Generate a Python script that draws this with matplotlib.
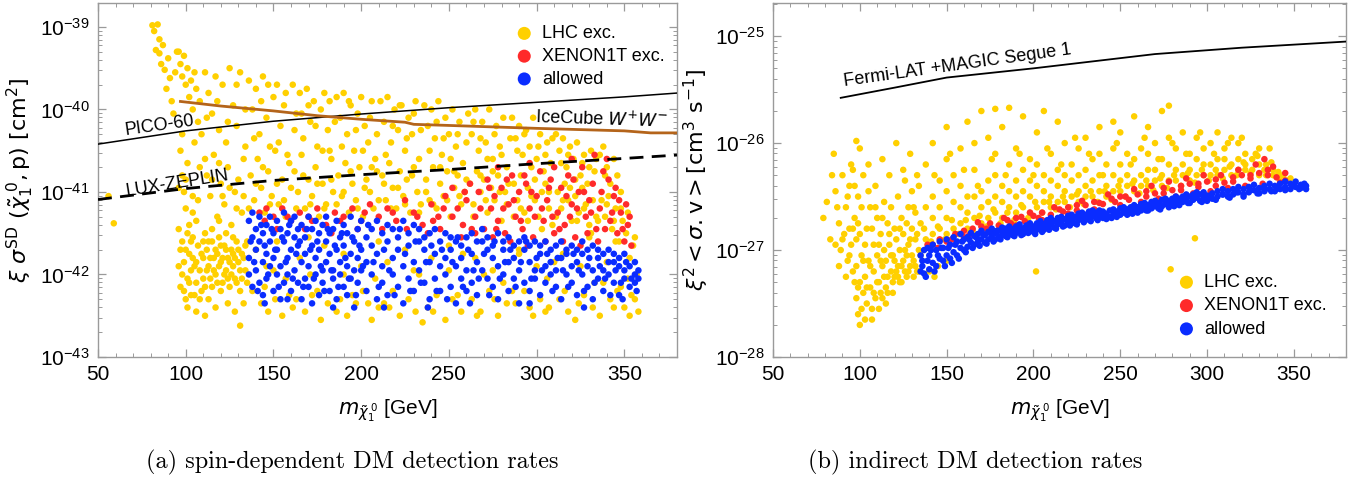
import numpy as np
import matplotlib
matplotlib.use("Agg")
import matplotlib.pyplot as plt
from matplotlib.ticker import MultipleLocator, FixedLocator, NullFormatter

plt.rcParams['font.family'] = ['Liberation Sans', 'DejaVu Sans']
plt.rcParams['mathtext.fontset'] = 'dejavusans'

# ---------------- data: panel (a)  (x in GeV, y as log10 of cm^2) ----------------
lhc_a = [
 (81,-38.98),(82,-39.05),(84,-38.97),(83,-39.28),(85,-39.32),(87,-39.22),(86,-39.45),(88,-39.52),(90,-39.38),(91,-39.62),
 (89,-39.75),(92,-39.9),(93,-40.05),(94,-39.55),(95,-39.3),(85,-39.15),(56,-41.05),(59,-41.38),
 (96,-39.3),(97,-39.45),(98,-39.6),(99,-39.35),(100,-39.7),(101,-39.5),(102,-39.85),(103,-39.65),(104,-40.0),(105,-39.55),
 (106,-39.75),(107,-40.15),(108,-39.9),(109,-40.3),(97,-40.5),(98,-40.8),(99,-41.0),(100,-41.2),(101,-40.65),(102,-41.4),
 (103,-41.6),(104,-41.8),(96,-41.9),(97,-41.7),(98,-42.0),(99,-42.2),(100,-42.3),(101,-41.5),(102,-42.1),(103,-41.95),
 (105,-42.25),(106,-41.35),(107,-41.1),(108,-40.7),(109,-41.75),(110,-42.05),(105,-40.4),(106,-41.85),(104,-41.25),(108,-42.3),(110,-41.6),
 (111,-39.55),(113,-39.8),(115,-40.05),(117,-39.6),(119,-40.25),(121,-39.7),(123,-40.4),(125,-39.5),(127,-39.95),(129,-40.2),
 (131,-39.55),(133,-40.6),(112,-40.8),(114,-41.05),(116,-40.55),(118,-41.3),(120,-40.9),(122,-41.15),(124,-40.7),(126,-41.4),
 (128,-41.0),(130,-40.85),(132,-41.25),(134,-40.45),(111,-41.5),(112,-41.7),(113,-41.9),(114,-42.05),(115,-41.6),(116,-41.8),
 (117,-42.0),(118,-41.75),(119,-41.55),(120,-41.85),(121,-42.1),(122,-41.65),(123,-41.95),(124,-41.8),(125,-42.15),(126,-41.7),
 (127,-41.9),(128,-42.05),(129,-41.6),(130,-41.85),(131,-42.2),(132,-41.75),(133,-42.35),(134,-41.95),(113,-42.3),(117,-42.4),
 (120,-42.2),(124,-42.35),(128,-42.45),(131,-42.62),(115,-41.45),(119,-41.35),(123,-41.5),(127,-41.55),(135,-41.6),(135,-42.1),
 (136,-39.65),(138,-40.0),(140,-39.75),(142,-40.3),(144,-39.6),(146,-40.1),(148,-40.45),(150,-39.85),(152,-39.7),(154,-40.2),
 (156,-39.95),(158,-40.55),(137,-40.8),(139,-41.1),(141,-40.6),(143,-40.95),(145,-41.25),(147,-40.75),(149,-41.05),(151,-40.5),
 (153,-41.15),(155,-40.85),(157,-41.3),(159,-40.65),(138,-42.2),(143,-42.35),(147,-42.45),(151,-42.3),(155,-42.5),(159,-42.25),
 (140,-41.7),(146,-41.9),(152,-41.6),(157,-42.05),
 (161,-39.7),(163,-40.05),(165,-39.8),(167,-40.35),(169,-39.75),(171,-40.15),(173,-39.9),(175,-40.45),(177,-40.0),(179,-39.8),
 (181,-40.25),(183,-40.6),(162,-40.75),(164,-41.0),(166,-40.55),(168,-41.2),(170,-40.85),(172,-41.05),(174,-40.7),(176,-41.3),
 (178,-40.9),(180,-41.15),(182,-40.5),(184,-41.0),(163,-42.3),(168,-42.45),(172,-42.25),(177,-42.55),(181,-42.35),(165,-41.8),
 (171,-42.0),(179,-41.65),
 (186,-39.85),(188,-40.1),(190,-39.8),(192,-40.3),(194,-39.95),(196,-40.5),(198,-40.05),(200,-39.85),(202,-40.2),(204,-40.4),
 (206,-39.9),(208,-40.6),(187,-40.8),(189,-41.05),(191,-40.65),(193,-41.25),(195,-40.9),(197,-41.1),(199,-40.7),(201,-41.3),
 (203,-40.85),(205,-41.0),(207,-41.2),(209,-40.75),(188,-42.3),(192,-42.5),(197,-42.35),(201,-42.2),(206,-42.55),(210,-42.4),
 (190,-41.75),(200,-41.9),(208,-42.05),
 (211,-39.9),(213,-40.15),(215,-39.85),(217,-40.4),(219,-40.0),(221,-40.25),(223,-39.95),(225,-40.5),(227,-40.1),(229,-40.3),
 (231,-39.9),(233,-40.6),(212,-40.8),(214,-41.1),(216,-40.65),(218,-40.95),(220,-41.2),(222,-40.75),(224,-41.05),(226,-40.85),
 (228,-41.25),(230,-40.7),(232,-41.0),(234,-41.15),(213,-42.35),(218,-42.2),(222,-42.5),(227,-42.3),(231,-42.45),(235,-42.58),
 (215,-41.85),(225,-41.7),(233,-42.0),
 (236,-39.95),(238,-40.2),(240,-40.0),(242,-40.35),(244,-39.9),(246,-40.55),(248,-40.1),(250,-40.3),(252,-40.0),(254,-40.45),
 (256,-40.15),(258,-40.65),(237,-40.85),(239,-41.1),(241,-40.7),(243,-41.2),(245,-40.9),(247,-41.05),(249,-40.75),(251,-41.3),
 (253,-40.95),(255,-40.8),(257,-41.15),(259,-41.0),(238,-42.4),(243,-42.25),(248,-42.55),(252,-42.3),(257,-42.45),(240,-41.8),
 (250,-41.95),(258,-41.75),
 (261,-40.05),(263,-40.3),(265,-40.0),(267,-40.5),(269,-40.15),(271,-40.4),(273,-40.0),(275,-40.6),(277,-40.2),(279,-40.45),
 (281,-40.1),(283,-40.7),(262,-40.9),(264,-41.15),(266,-40.75),(268,-41.0),(270,-40.85),(272,-41.25),(274,-40.95),(276,-41.1),
 (278,-40.8),(280,-41.35),(282,-41.0),(284,-40.9),(263,-42.3),(268,-42.45),(273,-42.2),(278,-42.5),(283,-42.35),(265,-41.8),
 (275,-41.95),(281,-42.1),
 (286,-40.1),(288,-40.35),(290,-40.2),(292,-40.55),(294,-40.25),(296,-40.45),(298,-40.1),(300,-40.6),(302,-40.3),(304,-40.75),
 (306,-40.4),(308,-40.65),(287,-40.9),(289,-41.1),(291,-40.8),(293,-41.25),(295,-40.95),(297,-41.05),(299,-40.85),(301,-41.3),
 (303,-41.0),(305,-40.9),(307,-41.2),(309,-41.4),(288,-42.35),(293,-42.2),(298,-42.5),(302,-42.3),(307,-42.4),(290,-41.7),
 (300,-41.9),(306,-42.05),
 (311,-40.3),(313,-40.5),(315,-40.35),(317,-40.7),(319,-40.45),(321,-40.6),(323,-40.4),(325,-40.8),(327,-40.55),(329,-40.9),
 (331,-40.5),(333,-40.75),(312,-41.0),(314,-41.2),(316,-40.9),(318,-41.1),(320,-41.35),(322,-41.05),(324,-41.25),(326,-40.95),
 (328,-41.15),(330,-41.4),(332,-41.1),(334,-41.3),(313,-42.3),(318,-42.45),(322,-42.55),(327,-42.25),(332,-42.4),(315,-41.75),
 (325,-41.9),(333,-42.1),
 (336,-40.55),(338,-40.45),(340,-40.7),(342,-40.9),(344,-40.6),(346,-40.8),(348,-41.0),(337,-41.1),(339,-41.3),(341,-41.05),
 (343,-41.45),(345,-41.2),(347,-41.6),(349,-41.35),(351,-41.5),(353,-41.8),(355,-41.65),(357,-42.0),(338,-42.1),(342,-42.3),
 (346,-42.2),(350,-42.4),(354,-42.25),(358,-42.45),(340,-41.85),(352,-42.05),(356,-42.3),
 (112,-40.1),(118,-39.9),(124,-40.15),(129,-39.7),(134,-40.0),(139,-40.35),(143,-39.9),(147,-39.7),(153,-40.4),(157,-39.8),
 (162,-40.25),(166,-40.05),(170,-39.95),(174,-40.2),(178,-40.5),(182,-39.9),(185,-40.15),(189,-40.45),(193,-39.9),(197,-40.25),
 (201,-40.5),(205,-40.1),(209,-40.3),(214,-40.55),(218,-40.2),(222,-39.95),(226,-40.35),(230,-40.05),(234,-40.25),(239,-40.5),
 (243,-40.15),(247,-40.35),(251,-40.6),(255,-40.3),(260,-40.4),(264,-40.15),(268,-40.35),(272,-40.6),(276,-40.3),(280,-40.55),
 (285,-40.35),(289,-40.5),(293,-40.3),(297,-40.7),(301,-40.45),(305,-40.55),(309,-40.35),(314,-40.65),(318,-40.55),(322,-40.85),
 (326,-40.65),(330,-40.7),(334,-40.6),(339,-40.8),
 (111,-40.6),(115,-40.85),(119,-40.65),(121,-41.05),(125,-40.95),(129,-41.2),(133,-41.05),(136,-41.2),(140,-40.9),(144,-40.7),
 (148,-41.15),(152,-40.9),(156,-41.1),(160,-40.95),(163,-41.2),(167,-40.8),(171,-41.15),(175,-40.9),(179,-41.2),(183,-40.85),
 (186,-41.15),(190,-41.0),(194,-40.75),(198,-41.2),(202,-40.95),(206,-40.7),(210,-41.1),(213,-40.9),(217,-41.2),(221,-40.95),
 (225,-41.15),(229,-40.8),(233,-41.25),(237,-41.0),(241,-41.15),(245,-40.7),(249,-41.1),(253,-40.75),(256,-41.05),(260,-40.85),
 (264,-41.3),(268,-40.8),(271,-41.1),(275,-40.75),(279,-41.0),(283,-41.15),(287,-41.3),(291,-41.2),(295,-41.35),(299,-41.1),
 (303,-41.45),(307,-41.0),(311,-41.3),(315,-41.1),(319,-40.95),(323,-41.35),(327,-41.2),(331,-41.5),(335,-41.35),(340,-41.15),
 (344,-41.35),(348,-41.2),(352,-41.25),(356,-41.55),
 (96,-41.45),(97,-42.15),(98,-41.6),(99,-41.85),(100,-41.7),(101,-42.05),(102,-41.75),(103,-42.25),(104,-41.55),(105,-41.9),
 (106,-42.1),(107,-41.65),(108,-41.95),(109,-42.2),(110,-41.8),(111,-42.15),(112,-41.95),(113,-41.6),(114,-41.8),(115,-42.15),
 (116,-41.95),(117,-41.7),(118,-42.1),(119,-41.9),(120,-41.65),(121,-41.8),(122,-42.0),(123,-41.7),(124,-42.05),(125,-41.85),
 (126,-42.0),(127,-41.75),(128,-41.8),(129,-42.1),(130,-41.7),(131,-41.95),(132,-42.05),(133,-41.8),(134,-41.65),(101,-42.4),
 (106,-42.45),(111,-42.5),(96,-40.95),(100,-40.85),(104,-41.05),(98,-40.3),
 (145,-42.15),(161,-42.4),(175,-42.2),(186,-42.45),(195,-42.25),(204,-42.35),(216,-42.4),(229,-42.2),(241,-42.45),(255,-42.25),
 (266,-42.5),(276,-42.3),(286,-42.2),(296,-42.4),(305,-42.45),(316,-42.2),(324,-42.35),(336,-42.5),(344,-42.4),(353,-42.5),
 (348,-42.15),(150,-41.95),(170,-41.55),(190,-42.0),(210,-41.6),(230,-41.95),(250,-41.65),(270,-42.0),(290,-41.75),(310,-41.85),
 (330,-41.55),(345,-41.6),
]

xenon_a = [
 (142,-41.25),(146,-41.2),(150,-41.3),(155,-41.2),(160,-41.35),(165,-41.25),(170,-41.3),(175,-41.2),(180,-41.4),(185,-41.25),
 (190,-41.3),(195,-41.2),(200,-41.35),(205,-41.15),(210,-41.3),(215,-41.2),(220,-41.35),(225,-41.1),(230,-41.25),(235,-41.4),
 (240,-41.15),(244,-41.3),(248,-41.05),(252,-40.95),(255,-41.2),(258,-41.4),(260,-41.1),(262,-40.9),(265,-41.3),(267,-41.0),
 (270,-41.45),(272,-40.85),(274,-41.2),(276,-41.05),(278,-41.35),(280,-40.95),(282,-41.5),(284,-41.15),(286,-40.8),(288,-41.3),
 (290,-41.0),(292,-41.45),(294,-40.9),(296,-41.2),(298,-41.55),(300,-41.05),(302,-40.75),(304,-41.35),(306,-41.1),(308,-40.85),
 (310,-41.5),(312,-41.25),(314,-40.95),(316,-41.4),(318,-40.8),(320,-41.15),(322,-41.55),(324,-41.0),(326,-40.7),(328,-41.3),
 (330,-41.1),(332,-40.9),(334,-41.45),(336,-41.2),(338,-40.75),(340,-40.6),(342,-41.35),(344,-41.05),(346,-41.5),(348,-41.25),
 (350,-41.6),(352,-41.4),(354,-41.65),(345,-40.95),(335,-41.6),(325,-41.65),(315,-41.6),(305,-41.6),(295,-41.65),(285,-41.6),
 (275,-41.55),(265,-41.5),(257,-41.55),(245,-41.45),(238,-41.5),(226,-41.45),(212,-41.45),(198,-41.45),(183,-41.5),(168,-41.45),
 (152,-41.45),(278,-40.7),(296,-40.65),(310,-40.7),(320,-40.6),(333,-40.55),
 (252,-41.3),(259,-41.0),(263,-41.45),(268,-41.2),(273,-40.95),(277,-41.45),(281,-41.2),(283,-40.85),(287,-41.1),(291,-41.35),
 (293,-40.8),(297,-41.0),(299,-41.3),(303,-41.2),(307,-40.95),(309,-41.3),(313,-41.45),(317,-41.05),(319,-41.3),(321,-40.85),
 (323,-41.2),(327,-41.0),(329,-41.5),(331,-41.25),(337,-41.0),(339,-41.45),(341,-40.85),(343,-41.25),(347,-41.1),(349,-41.45),
 (351,-41.15),(353,-41.3),(232,-41.3),(218,-41.25),(202,-41.25),(188,-41.35),(172,-41.35),(158,-41.3),(145,-41.35),(241,-41.35),
 (247,-41.2),
]

allowed_a = [
 (136,-41.35),(136,-41.8),(136,-42.0),(138,-41.55),(138,-42.15),(138,-41.25),(140,-41.7),(140,-41.45),(140,-41.95),
 (142,-42.1),(142,-41.6),(142,-41.3),(144,-41.85),(144,-42.25),(144,-41.5),(146,-41.4),(146,-41.75),(146,-42.05),
 (148,-41.6),(148,-41.3),(148,-41.9),(150,-42.2),(150,-41.5),(150,-41.8),(152,-41.7),(152,-42.0),(152,-41.35),
 (154,-41.45),(154,-41.9),(154,-42.3),(156,-41.6),(156,-41.25),(156,-42.1),(158,-41.8),(158,-42.0),(158,-41.5),
 (160,-41.35),(160,-41.7),(160,-42.2),(162,-41.55),(162,-41.95),(162,-41.3),(164,-42.1),(164,-41.65),(164,-41.45),
 (166,-41.85),(166,-41.4),(166,-42.3),(168,-41.55),(168,-42.05),(168,-41.75),(170,-41.3),(170,-41.9),(170,-42.15),
 (172,-41.65),(172,-41.45),(172,-42.35),(174,-41.8),(174,-42.0),(174,-41.35),(176,-41.5),(176,-42.25),(176,-41.7),
 (178,-41.95),(178,-41.4),(178,-42.1),(180,-41.6),(180,-41.3),(180,-41.85),(182,-42.2),(182,-41.5),(182,-41.75),
 (184,-41.45),(184,-41.95),(184,-42.05),(186,-41.7),(186,-41.35),(186,-42.3),(188,-41.55),(188,-41.85),(188,-42.0),
 (190,-41.4),(190,-42.15),(190,-41.65),(192,-41.9),(192,-41.5),(192,-42.25),(194,-41.75),(194,-41.3),(194,-42.05),
 (196,-41.6),(196,-41.95),(196,-42.4),(198,-41.45),(198,-41.8),(198,-42.1),(200,-41.35),(200,-41.7),(200,-41.95),
 (203,-42.2),(203,-41.55),(203,-41.85),(206,-41.45),(206,-42.0),(206,-41.65),(209,-41.75),(209,-41.35),(209,-42.3),
 (212,-41.9),(212,-41.5),(212,-42.1),(215,-41.6),(215,-42.25),(215,-41.4),(218,-41.8),(218,-41.45),(218,-42.0),
 (221,-41.55),(221,-42.15),(221,-41.7),(224,-41.35),(224,-41.9),(224,-42.35),(227,-41.65),(227,-42.05),(227,-41.5),
 (230,-41.85),(230,-41.4),(230,-42.2),(233,-41.6),(233,-41.95),(233,-41.45),(236,-42.1),(236,-41.7),(236,-41.55),
 (239,-41.5),(239,-41.85),(239,-42.3),(242,-41.75),(242,-42.05),(242,-41.45),(245,-41.6),(245,-41.9),(245,-42.2),
 (248,-41.5),(248,-41.8),(248,-42.0),(251,-41.7),(251,-42.15),(251,-41.55),(254,-41.9),(254,-41.6),(254,-42.35),
 (257,-41.65),(257,-42.05),(257,-41.8),(260,-41.55),(260,-41.95),(260,-42.2),(263,-41.75),(263,-41.5),(263,-42.1),
 (266,-41.85),(266,-42.25),(266,-41.6),(269,-41.6),(269,-41.95),(269,-41.45),(272,-42.05),(272,-41.7),(272,-41.55),
 (275,-41.8),(275,-42.15),(275,-41.65),(278,-41.5),(278,-41.9),(278,-42.3),(281,-41.7),(281,-42.0),(281,-41.6),
 (284,-41.85),(284,-41.55),(284,-42.2),(287,-41.65),(287,-42.05),(287,-41.8),(290,-41.95),(290,-41.6),(290,-42.35),
 (293,-41.7),(293,-42.1),(293,-41.55),(296,-41.85),(296,-41.65),(296,-42.2),(299,-41.6),(299,-41.95),(299,-42.05),
 (302,-41.75),(302,-42.25),(302,-41.65),(305,-41.9),(305,-41.6),(305,-42.1),(308,-41.7),(308,-42.0),(308,-41.85),
 (311,-41.65),(311,-42.15),(311,-41.95),(314,-41.8),(314,-41.6),(314,-42.3),(317,-42.0),(317,-41.75),(317,-41.7),
 (320,-41.65),(320,-42.1),(320,-41.9),(323,-41.85),(323,-42.25),(323,-41.7),(326,-41.75),(326,-42.0),(326,-41.6),
 (329,-41.9),(329,-42.15),(329,-41.7),(332,-41.65),(332,-41.95),(332,-42.3),(335,-41.8),(335,-42.05),(335,-41.7),
 (338,-41.95),(338,-41.75),(338,-42.2),(341,-41.7),(341,-42.0),(341,-41.85),(344,-41.85),(344,-42.1),(344,-41.75),
 (347,-42.25),(347,-41.9),(347,-41.8),(350,-41.75),(350,-42.05),(350,-41.95),(353,-41.9),(353,-42.15),
 (356,-41.85),(356,-42.0),(356,-42.1),(358,-41.95),(358,-42.05),
 (137,-41.6),(139,-41.85),(141,-42.2),(143,-41.4),(145,-41.65),(147,-42.0),(149,-41.45),(151,-41.7),(153,-42.15),(155,-41.55),
 (157,-41.85),(159,-41.4),(161,-42.05),(163,-41.75),(165,-41.6),(167,-42.15),(169,-41.45),(171,-41.7),(173,-42.05),(175,-41.6),
 (177,-41.9),(179,-42.2),(181,-41.45),(183,-41.95),(185,-41.65),(187,-42.15),(189,-41.5),(191,-41.8),(193,-42.05),(195,-41.55),
 (197,-42.25),(199,-41.65),(201,-41.9),(204,-41.4),(207,-41.85),(210,-42.15),(213,-41.7),(216,-41.95),(219,-42.25),(222,-41.45),
 (225,-41.75),(228,-42.2),(231,-41.6),(234,-42.1),(237,-41.85),(240,-41.65),(243,-42.2),(246,-41.7),(249,-42.3),(252,-41.85),
 (255,-41.55),(258,-42.15),(261,-41.7),(264,-41.95),(267,-42.05),(270,-41.75),(273,-42.25),(276,-41.6),(279,-42.05),(282,-41.85),
 (285,-41.7),(288,-42.15),(291,-41.85),(294,-41.6),(297,-42.05),(300,-41.8),(303,-41.95),(306,-41.75),(309,-42.2),(312,-41.8),
 (315,-41.95),(318,-42.15),(321,-41.75),(324,-41.95),(327,-42.2),(330,-41.8),(333,-42.1),(336,-41.9),(339,-42.05),(342,-42.25),
 (345,-41.95),(348,-42.1),(351,-41.85),(354,-42.05),(357,-42.2),(349,-42.3),(327,-42.4),(296,-42.35),(262,-42.35),(238,-42.4),
 (213,-42.4),(184,-42.4),(158,-42.3),(145,-42.35),
]

# limit curves, panel (a)
pico_x = [50, 100, 150, 200, 250, 300, 350, 380]
pico_y = [3.8e-41, 5.5e-41, 7.2e-41, 8.8e-41, 1.05e-40, 1.22e-40, 1.42e-40, 1.58e-40]
icecube_x = [97, 120, 150, 175, 200, 225, 230, 250, 300, 350, 365, 380]
icecube_y = [1.25e-40, 1.10e-40, 9.6e-41, 8.4e-41, 7.6e-41, 7.0e-41, 6.6e-41, 6.4e-41, 5.9e-41, 5.5e-41, 5.2e-41, 5.2e-41]
lz_x = [50, 100, 150, 200, 250, 300, 350, 380]
lz_y = [8.1e-42, 1.1e-41, 1.38e-41, 1.62e-41, 1.87e-41, 2.2e-41, 2.55e-41, 2.8e-41]

# ---------------- data: panel (b)  (x in GeV, y as log10 of cm^3 s^-1) ----------------
lhc_b = [
 (79,-26.7),(81,-26.55),(83,-26.9),(85,-26.1),(86,-26.45),(88,-26.75),(89,-27.0),(90,-26.3),(91,-26.85),(92,-26.6),
 (93,-27.1),(94,-26.4),(95,-26.95),(96,-27.2),(97,-26.7),(98,-25.98),(99,-26.5),(100,-26.85),(100,-26.05),(101,-27.05),
 (102,-26.3),(97,-27.3),(98,-27.45),(99,-27.6),(100,-27.7),(101,-27.55),(102,-27.4),(103,-27.65),(99,-27.35),(98,-27.15),
 (96,-26.25),(94,-26.8),(92,-27.25),(88,-27.15),(86,-26.95),
 (103,-27.25),(104,-27.5),(105,-27.1),(106,-27.35),(107,-27.55),(108,-27.2),(109,-27.45),(110,-27.05),(111,-27.3),(112,-27.4),
 (113,-27.15),(114,-27.0),(115,-27.35),(116,-27.25),(117,-26.95),(118,-27.2),(119,-27.3),(120,-27.1),(121,-26.9),(122,-27.25),
 (123,-27.0),(124,-27.15),(125,-26.85),(126,-27.2),(127,-27.05),(128,-26.95),(129,-27.15),(130,-26.8),(131,-27.1),(132,-26.9),
 (133,-27.2),(134,-27.0),(135,-26.75),(104,-26.8),(106,-26.6),(108,-26.95),(110,-26.7),(112,-26.85),(114,-26.55),(116,-26.75),
 (118,-26.6),(120,-26.8),(122,-26.5),(124,-26.7),(126,-26.35),(128,-26.6),(130,-26.45),(132,-26.65),(134,-26.4),(105,-26.2),
 (109,-26.4),(113,-26.15),(117,-26.3),(121,-26.0),(125,-26.25),(129,-26.1),(133,-26.3),(111,-27.55),(115,-27.5),(119,-27.4),
 (123,-27.3),(127,-27.25),(131,-27.25),(107,-27.65),(113,-27.45),
 (140,-27.2),(145,-27.15),(150,-27.1),(143,-27.25),
 (138,-26.9),(138,-26.6),(138,-26.2),(142,-26.85),(142,-26.7),(142,-26.5),(142,-26.0),(146,-26.8),(146,-26.6),(146,-26.35),
 (150,-26.85),(150,-26.7),(150,-26.45),(150,-26.15),(150,-25.85),(154,-26.8),(154,-26.55),(154,-26.3),
 (158,-26.75),(158,-26.6),(158,-26.4),(158,-26.05),(162,-26.8),(162,-26.65),(162,-26.5),(162,-25.8),
 (166,-26.7),(166,-26.5),(166,-26.25),(166,-26.0),(170,-26.75),(170,-26.6),(170,-26.45),(170,-25.7),
 (174,-26.7),(174,-26.55),(174,-26.35),(174,-25.95),(178,-26.65),(178,-26.5),(178,-26.3),(178,-26.1),(178,-25.68),
 (182,-26.7),(182,-26.55),(182,-26.4),(182,-25.85),(186,-26.6),(186,-26.45),(186,-26.2),(186,-25.67),
 (190,-26.65),(190,-26.5),(190,-26.35),(190,-26.05),(194,-26.6),(194,-26.45),(194,-26.25),(194,-25.75),
 (198,-26.65),(198,-26.5),(198,-26.35),(198,-26.15),(202,-26.6),(202,-26.4),(202,-26.2),(202,-25.9),
 (206,-26.55),(206,-26.45),(206,-26.3),(206,-25.7),(210,-26.6),(210,-26.5),(210,-26.35),(210,-26.1),
 (214,-26.55),(214,-26.4),(214,-26.25),(214,-25.8),(218,-26.55),(218,-26.45),(218,-26.3),(218,-26.0),
 (222,-26.5),(222,-26.35),(222,-26.2),(226,-26.55),(226,-26.45),(226,-26.3),(226,-26.05),
 (230,-26.5),(230,-26.4),(230,-26.25),(230,-25.95),(234,-26.5),(234,-26.35),(234,-26.15),
 (238,-26.45),(238,-26.3),(238,-26.1),(238,-25.85),(242,-26.5),(242,-26.4),(242,-26.2),
 (246,-26.45),(246,-26.3),(246,-26.05),(246,-25.8),(250,-26.45),(250,-26.35),(250,-26.2),(250,-25.9),
 (254,-26.4),(254,-26.3),(254,-26.1),(258,-26.45),(258,-26.35),(258,-26.15),(258,-25.75),
 (262,-26.4),(262,-26.3),(262,-26.05),(266,-26.4),(266,-26.25),(266,-26.1),(266,-25.85),
 (270,-26.35),(270,-26.25),(270,-26.0),(274,-26.4),(274,-26.3),(274,-26.15),(274,-25.7),
 (278,-26.35),(278,-26.2),(278,-25.95),(278,-25.65),(282,-26.35),(282,-26.25),(282,-26.05),
 (286,-26.3),(286,-26.2),(286,-25.9),(290,-26.35),(290,-26.25),(290,-26.1),(294,-26.3),(294,-26.15),(294,-25.95),
 (298,-26.3),(298,-26.2),(298,-26.05),(302,-26.3),(302,-26.2),(302,-26.0),(306,-26.3),(306,-26.15),(306,-25.9),
 (310,-26.25),(310,-26.15),(310,-26.05),(314,-26.3),(314,-26.2),(314,-25.95),(318,-26.25),(318,-26.15),(318,-26.0),
 (322,-26.25),(322,-26.2),(322,-26.1),(326,-26.25),(326,-26.15),(330,-26.3),(330,-26.2),(330,-26.05),
 (334,-26.3),(334,-26.2),(338,-26.3),(338,-26.25),(342,-26.35),(342,-26.3),(346,-26.35),
 (201.5,-27.2),(279,-27.18),(293,-26.89),
 (141,-26.92),(145,-26.78),(149,-26.9),(153,-26.72),(157,-26.85),(161,-26.72),(165,-26.82),(169,-26.68),(173,-26.78),(177,-26.62),
 (181,-26.75),(185,-26.65),(189,-26.72),(193,-26.58),(197,-26.7),(201,-26.55),(205,-26.65),(209,-26.55),(213,-26.62),(217,-26.5),
 (221,-26.6),(225,-26.48),(229,-26.57),(233,-26.45),(237,-26.55),(241,-26.45),(245,-26.53),(249,-26.4),(253,-26.5),(257,-26.38),
 (261,-26.47),(265,-26.35),(269,-26.44),(273,-26.33),(277,-26.42),(281,-26.3),(285,-26.4),(289,-26.28),(293,-26.37),(297,-26.25),
 (301,-26.35),(305,-26.25),(309,-26.33),(313,-26.22),(317,-26.3),(321,-26.18),(325,-26.28),(329,-26.12),(333,-26.25),(337,-26.18),
 (341,-26.27),(344,-26.3),(348,-26.33),
 (143,-26.3),(152,-26.1),(160,-26.25),(168,-26.4),(176,-26.15),(184,-26.3),(192,-26.1),(200,-26.3),(208,-26.05),(216,-26.2),
 (224,-25.95),(232,-26.1),(240,-26.3),(248,-26.0),(256,-26.2),(264,-25.95),(272,-26.15),(280,-26.0),(288,-26.1),(296,-25.9),
 (304,-26.1),(312,-26.0),(320,-25.95),(328,-26.1),(336,-26.05),
 (84,-26.3),(87,-26.6),(90,-26.9),(93,-26.5),(95,-26.2),(97,-26.4),(99,-26.75),(101,-26.6),(103,-26.95),(105,-26.45),
 (107,-26.8),(109,-26.6),(111,-26.95),(113,-26.7),(115,-27.1),(117,-26.85),(119,-27.05),(121,-27.2),(123,-26.8),(125,-27.1),
 (127,-26.75),(129,-26.9),(131,-26.6),(133,-26.85),(135,-27.05),(137,-26.8),(104,-27.35),(106,-27.15),(108,-27.4),(110,-27.3),
 (112,-27.1),(114,-27.25),(116,-27.4),(118,-27.05),(120,-27.25),(122,-27.15),(124,-27.3),(126,-27.0),(128,-27.2),(130,-27.05),
 (132,-27.15),(134,-27.2),(102,-27.1),(100,-27.3),(98,-26.9),(96,-26.8),(94,-27.05),
]

xenon_b = [
 (139,-26.95),(142,-26.95),(146,-26.9),(150,-26.92),(155,-26.85),(160,-26.82),(165,-26.8),(170,-26.78),(175,-26.75),(180,-26.77),
 (185,-26.72),(190,-26.7),(195,-26.73),(200,-26.68),(205,-26.65),(210,-26.67),(215,-26.62),(220,-26.6),(225,-26.63),(230,-26.58),
 (235,-26.55),(240,-26.57),(245,-26.52),(250,-26.5),(255,-26.53),(260,-26.48),(265,-26.45),(270,-26.47),(275,-26.42),(280,-26.44),
 (285,-26.4),(290,-26.38),(295,-26.41),(300,-26.36),(305,-26.34),(310,-26.37),(315,-26.32),(320,-26.3),(325,-26.33),(330,-26.28),
 (335,-26.3),(340,-26.32),(345,-26.35),
 (160,-26.88),(175,-26.82),(190,-26.77),(205,-26.72),(220,-26.66),(235,-26.62),(250,-26.58),(262,-26.55),(272,-26.52),(282,-26.5),
 (292,-26.47),(302,-26.45),(312,-26.42),(322,-26.4),(332,-26.38),(342,-26.37),(268,-26.4),(288,-26.33),(308,-26.3),(318,-26.25),
 (328,-26.2),(333,-26.15),(338,-26.22),(298,-26.3),(278,-26.36),(258,-26.43),(243,-26.48),(228,-26.54),(212,-26.6),(198,-26.65),
 (183,-26.7),(168,-26.74),
 (145,-26.98),(153,-26.9),(163,-26.86),(173,-26.8),(187,-26.75),(193,-26.69),(203,-26.7),(217,-26.64),(225,-26.58),(238,-26.56),
 (247,-26.55),(253,-26.5),(265,-26.5),(275,-26.47),(285,-26.44),(295,-26.38),(305,-26.4),(315,-26.36),(325,-26.3),(335,-26.25),
 (345,-26.28),
]

allowed_b = [
 (135,-27.2),(135,-27.05),(136,-27.15),(137,-27.0),(137,-27.22),(139,-27.1),(139,-26.98),(140,-27.18),(140,-27.05),
 (142,-27.12),(142,-26.95),(144,-27.0),(144,-27.15),(146,-27.08),(146,-26.92),(148,-26.98),(148,-27.1),(150,-27.05),(150,-26.9),
 (152,-26.95),(152,-27.08),(154,-27.02),(154,-26.88),(156,-26.92),(156,-27.05),(158,-26.98),(158,-26.85),(160,-27.0),(160,-26.9),
 (162,-26.88),(162,-26.97),(164,-26.93),(164,-26.84),(166,-26.95),(166,-26.87),(168,-26.85),(168,-26.92),(170,-26.9),(170,-26.82),
 (172,-26.86),(172,-26.93),(174,-26.83),(174,-26.9),(176,-26.88),(176,-26.8),(178,-26.84),(178,-26.9),(180,-26.82),(180,-26.88),
 (182,-26.86),(182,-26.79),(184,-26.8),(184,-26.87),(186,-26.84),(186,-26.78),(188,-26.81),(188,-26.86),(190,-26.78),(190,-26.84),
 (192,-26.82),(192,-26.76),(194,-26.8),(194,-26.85),(196,-26.77),(196,-26.83),(198,-26.8),(198,-26.75),(200,-26.78),(200,-26.83),
 (202,-26.75),(202,-26.81),(204,-26.79),(204,-26.73),(206,-26.76),(206,-26.81),(208,-26.72),(208,-26.78),(210,-26.76),(210,-26.7),
 (212,-26.73),(212,-26.79),(214,-26.7),(214,-26.76),(216,-26.74),(216,-26.69),(218,-26.71),(218,-26.77),(220,-26.68),(220,-26.74),
 (222,-26.72),(222,-26.67),(224,-26.69),(224,-26.75),(226,-26.66),(226,-26.72),(228,-26.7),(228,-26.65),(230,-26.67),(230,-26.72),
 (232,-26.64),(232,-26.7),(234,-26.68),(234,-26.63),(236,-26.65),(236,-26.7),(238,-26.63),(238,-26.69),
 (240,-26.7),(240,-26.64),(242,-26.66),(242,-26.71),(244,-26.63),(244,-26.69),(246,-26.67),(246,-26.62),(248,-26.64),(248,-26.69),
 (250,-26.61),(250,-26.67),(252,-26.65),(252,-26.6),(254,-26.62),(254,-26.67),(256,-26.6),(256,-26.65),(258,-26.63),(258,-26.58),
 (260,-26.6),(260,-26.65),(262,-26.57),(262,-26.63),(264,-26.61),(264,-26.56),(266,-26.58),(266,-26.63),(268,-26.55),(268,-26.61),
 (270,-26.59),(270,-26.54),(272,-26.56),(272,-26.61),(274,-26.53),(274,-26.59),(276,-26.57),(276,-26.52),(278,-26.54),(278,-26.6),
 (280,-26.52),(280,-26.57),(282,-26.55),(282,-26.5),(284,-26.52),(284,-26.58),(286,-26.5),(286,-26.55),(288,-26.53),(288,-26.48),
 (290,-26.5),(290,-26.56),(292,-26.48),(292,-26.53),(294,-26.51),(294,-26.46),(296,-26.48),(296,-26.54),(298,-26.46),(298,-26.51),
 (300,-26.49),(300,-26.54),(303,-26.47),(303,-26.52),(306,-26.45),(306,-26.5),(309,-26.48),(309,-26.43),(312,-26.45),(312,-26.5),
 (315,-26.43),(315,-26.48),(318,-26.46),(318,-26.41),(321,-26.43),(321,-26.48),(324,-26.41),(324,-26.46),(327,-26.44),(327,-26.39),
 (330,-26.42),(330,-26.47),(333,-26.4),(333,-26.45),(336,-26.43),(336,-26.38),(339,-26.4),(339,-26.45),(342,-26.38),(342,-26.43),
 (345,-26.41),(345,-26.36),(348,-26.38),(348,-26.43),(351,-26.36),(351,-26.41),(354,-26.39),(354,-26.42),(357,-26.4),(357,-26.43),
 (136,-27.1),(138,-27.25),(141,-27.0),(143,-27.2),(145,-27.05),(147,-26.98),(149,-27.15),(151,-26.98),(153,-27.12),(155,-26.95),
 (157,-27.08),(159,-26.92),(161,-27.02),(163,-26.9),(165,-26.98),(167,-26.88),(169,-26.96),(171,-26.85),(173,-26.94),(175,-26.84),
 (177,-26.92),(179,-26.82),(181,-26.9),(183,-26.83),(185,-26.88),(187,-26.8),(189,-26.87),(191,-26.8),(193,-26.86),(195,-26.79),
 (197,-26.84),(199,-26.78),(201,-26.85),(203,-26.77),(205,-26.83),(207,-26.75),(209,-26.81),(211,-26.74),(213,-26.8),(215,-26.72),
 (217,-26.78),(219,-26.71),(221,-26.77),(223,-26.7),(225,-26.76),(227,-26.69),(229,-26.74),(231,-26.68),(233,-26.73),(235,-26.66),
 (237,-26.72),(239,-26.66),(241,-26.68),(245,-26.7),(249,-26.66),(253,-26.63),(257,-26.66),(261,-26.6),(265,-26.63),(269,-26.58),
 (273,-26.62),(277,-26.56),(281,-26.59),(285,-26.53),(289,-26.56),(293,-26.51),(297,-26.55),(301,-26.5),(305,-26.53),(309,-26.48),
 (313,-26.51),(317,-26.46),(321,-26.5),(325,-26.44),(329,-26.47),(333,-26.43),(337,-26.45),(341,-26.41),(345,-26.44),(349,-26.4),
 (353,-26.43),(356,-26.38),
]

fermi_x = [89, 120, 150, 200, 270, 320, 380]
fermi_y = [2.65e-26, 3.3e-26, 4.1e-26, 5.0e-26, 6.8e-26, 7.8e-26, 8.9e-26]

series_labels = ["LHC exc.", "XENON1T exc.", "allowed"]
series_colors = ["#FFD000", "#FF2A2A", "#0A2CFF"]
x_ticks = [50, 100, 150, 200, 250, 300, 350]
y_ticks_a = [1e-43, 1e-42, 1e-41, 1e-40, 1e-39]
y_ticks_b = [1e-28, 1e-27, 1e-26, 1e-25]

# ---------------- figure ----------------
W, H = 1353, 478
fig = plt.figure(figsize=(W / 100, H / 100), dpi=100)
ax1 = fig.add_axes([98 / W, (H - 357) / H, 579 / W, 354 / H])
ax2 = fig.add_axes([773 / W, (H - 357) / H, 573 / W, 354 / H])

frame_col = "#9a9a9a"
MS = 22

def style(ax, ylo, yhi, yt):
    ax.set_xlim(50, 380)
    ax.set_yscale('log')
    ax.set_ylim(ylo, yhi)
    ax.xaxis.set_major_locator(FixedLocator(x_ticks))
    ax.xaxis.set_minor_locator(MultipleLocator(10))
    ax.yaxis.set_major_locator(FixedLocator(yt))
    minors = [m * t for t in yt for m in range(2, 10) if m * t < yhi]
    ax.yaxis.set_minor_locator(FixedLocator(minors))
    ax.yaxis.set_minor_formatter(NullFormatter())
    for s in ax.spines.values():
        s.set_color(frame_col)
        s.set_linewidth(1.0)
    ax.tick_params(which='both', direction='in', top=True, right=True, color=frame_col)
    ax.tick_params(which='major', length=6, width=0.9, labelsize=15, pad=6)
    ax.tick_params(which='minor', length=3, width=0.7)

def unzip(pts):
    xs = [p[0] for p in pts]
    ys = [10.0 ** p[1] for p in pts]
    return xs, ys

handles = []
for ax, groups in ((ax1, (lhc_a, xenon_a, allowed_a)), (ax2, (lhc_b, xenon_b, allowed_b))):
    hs = []
    for pts, col, lab in zip(groups, series_colors, series_labels):
        xs, ys = unzip(pts)
        h = ax.scatter(xs, ys, s=MS, c=col, edgecolors='none', label=lab, zorder=2)
        hs.append(h)
    handles.append(hs)

# panel (a)
style(ax1, 1e-43, 10 ** -38.71, y_ticks_a)
ax1.plot(pico_x, pico_y, color='black', lw=1.1, zorder=3)
ax1.plot(icecube_x, icecube_y, color='#B4641A', lw=2.0, zorder=3)
ax1.plot(lz_x, lz_y, color='black', lw=2.0, ls=(0, (5, 3)), zorder=3)
ax1.text(85, 6.3e-41, 'PICO-60', fontsize=13, rotation=8, ha='center', va='center')
ax1.text(95, 1.28e-41, 'LUX-ZEPLIN', fontsize=13, rotation=9, ha='center', va='center')
ax1.text(337, 7.6e-41, r'IceCube $W^{+}W^{-}$', fontsize=13, rotation=-2, ha='center', va='center')
ax1.set_ylabel(r'$\xi\ \sigma^{\rm SD}\ (\tilde{\chi}_1^{\ 0},\mathrm{p})\ [\mathrm{cm}^2]$', fontsize=16, labelpad=3)
ax1.set_xlabel(r'$m_{\tilde{\chi}_1^{\ 0}}$ [GeV]', fontsize=15, labelpad=9)
ax1.legend(handles=handles[0], loc='upper left', bbox_to_anchor=(0.705, 0.963), frameon=False,
           fontsize=13, markerscale=2.0, handlelength=1.0, handletextpad=0.5, labelspacing=0.32, borderpad=0)

# panel (b)
style(ax2, 1e-28, 10 ** -24.69, y_ticks_b)
ax2.plot(fermi_x, fermi_y, color='black', lw=1.3, zorder=3)
ax2.text(156, 5.3e-26, 'Fermi-LAT +MAGIC Segue 1', fontsize=13, rotation=8, ha='center', va='center')
ax2.set_ylabel(r'$\xi^2 < \sigma.\mathrm{v} > [\mathrm{cm}^3\ \mathrm{s}^{-1}]$', fontsize=16, labelpad=3)
ax2.set_xlabel(r'$m_{\tilde{\chi}_1^{\ 0}}$ [GeV]', fontsize=15, labelpad=9)
ax2.legend(handles=handles[1], loc='upper left', bbox_to_anchor=(0.69, 0.26), frameon=False,
           fontsize=13, markerscale=2.0, handlelength=1.0, handletextpad=0.5, labelspacing=0.35, borderpad=0)

# captions
fig.text(352 / W, (H - 462) / H, '(a) spin-dependent DM detection rates', family='cmr10', fontsize=17.5,
         ha='center', va='center')
fig.text(975 / W, (H - 462) / H, '(b) indirect DM detection rates', family='cmr10', fontsize=17.5,
         ha='center', va='center')

fig.savefig('out.png', dpi=100)
